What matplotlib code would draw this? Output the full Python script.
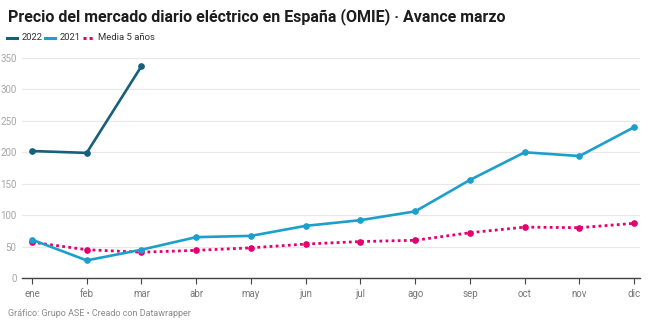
import matplotlib.pyplot as plt

plt.rcParams['font.family'] = ['Roboto', 'DejaVu Sans']

meses = ['ene', 'feb', 'mar', 'abr', 'may', 'jun', 'jul', 'ago', 'sep', 'oct', 'nov', 'dic']
precio_2022 = [202, 199, 337]
precio_2021 = [61, 28, 45, 65, 67, 83, 92, 106, 156, 200, 194, 240]
media_5 = [57, 45, 41, 44, 48, 54, 58, 60, 72, 81, 80, 87]
y_ticks = [0, 50, 100, 150, 200, 250, 300, 350]

c22 = '#15607a'
c21 = '#1d9fcb'
cmed = '#e6006f'

fig = plt.figure(figsize=(6.5, 3.25), dpi=100)
ax = fig.add_axes([0.034, 0.1446, 0.951, 0.677])

x = list(range(len(meses)))
ax.plot(x, media_5, color=cmed, lw=2, ls=(0, (1, 1.2)), marker='o', ms=3.8,
        clip_on=False, zorder=3)
ax.plot(x, precio_2021, color=c21, lw=1.9, marker='o', ms=3.8, clip_on=False, zorder=4)
ax.plot(x[:len(precio_2022)], precio_2022, color=c22, lw=1.9, marker='o', ms=3.8,
        clip_on=False, zorder=5)

ax.set_xlim(-0.18, 11.11)
ax.set_ylim(0, 350)
ax.set_xticks(x)
ax.set_xticklabels(meses)
ax.set_yticks(y_ticks)
ax.tick_params(axis='y', length=0, pad=4, labelsize=7, labelcolor='#a5a5a5')
ax.tick_params(axis='x', length=4, width=0.8, color='#444444', pad=4,
               labelsize=7, labelcolor='#777777')
for lab in ax.get_yticklabels():
    lab.set_horizontalalignment('right')
ax.grid(axis='y', color='#e8e8e8', lw=0.9)
ax.set_axisbelow(True)
for s in ['top', 'right', 'left']:
    ax.spines[s].set_visible(False)
ax.spines['bottom'].set_color('#444444')
ax.spines['bottom'].set_linewidth(1)

fig.text(0.012, 0.95, 'Precio del mercado diario eléctrico en España (OMIE) · Avance marzo',
         fontsize=11.5, fontweight='bold', color='#1d1d1d', va='center')

# leyenda
ly = 1 - 38 / 325
items = [(c22, '-', '2022', 7), (c21, '-', '2021', 45), (cmed, ':', 'Media 5 años', 83)]
for col, ls, txt, px in items:
    lx = px / 650
    fig.lines.append(plt.Line2D([lx, lx + 10 / 650], [ly, ly], transform=fig.transFigure,
                                color=col, lw=2.2, ls=(0, (1, 1)) if ls == ':' else '-'))
    fig.text(lx + 15 / 650, ly, txt, fontsize=6.8, color='#333333', va='center')

fig.text(0.012, 1 - 313 / 325, 'Gráfico: Grupo ASE • Creado con Datawrapper',
         fontsize=6.5, color='#8a8a8a', va='center')

fig.savefig('out.png', dpi=100)
